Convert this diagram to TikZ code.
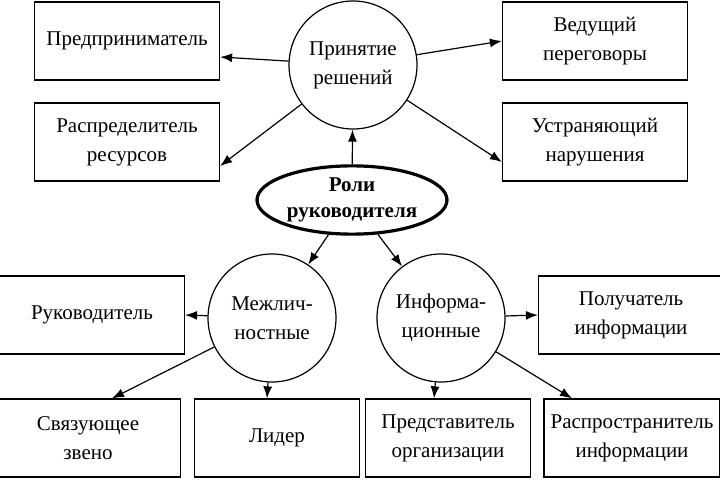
\documentclass[tikz,border=0pt]{standalone}
\usepackage{fontspec}
\setmainfont{Liberation Serif}
\usetikzlibrary{shapes.geometric,arrows.meta}

\tikzset{
  role/.style={draw,line width=0.6pt,minimum width=92.5pt,minimum height=39pt,align=center},
  group/.style={draw,circle,line width=0.6pt,minimum size=64pt,align=center},
  arr/.style={-{Latex[length=6pt,width=4.5pt]},line width=0.6pt}
}

\begin{document}
\begin{tikzpicture}[x=0.5pt,y=-0.5pt,font=\fontsize{10.5}{14.5}\selectfont]
\useasboundingbox (0,0) rectangle (720,481);

% decisions
\node[group] (dec) at (353,65) {Принятие\\решений};
\node[role] (pred) at (127,41) {Предприниматель};
\node[role] (raspr) at (127,142) {Распределитель\\ресурсов};
\node[role] (ved) at (595,41) {Ведущий\\переговоры};
\node[role] (ustr) at (595,142) {Устраняющий\\нарушения};

% centre
\node[draw,ellipse,line width=1.6pt,minimum width=95pt,minimum height=30pt,inner sep=1pt,align=center,font=\fontsize{10.5}{13}\selectfont\bfseries] (roles) at (352,200) {Роли\\руководителя};

% groups
\node[group] (mezh) at (272,318) {Межлич-\\ностные};
\node[group] (info) at (441,318) {Информа-\\ционные};

\node[role] (ruk) at (92,315) {Руководитель};
\node[role] (polu) at (631,315) {Получатель\\информации};
\node[role] (svyaz) at (88,438) {Связующее\\звено};
\node[role,minimum width=82.5pt] (lid) at (277,438) {Лидер};
\node[role,minimum width=82.5pt] (pred2) at (448,438) {Представитель\\организации};
\node[role,minimum width=86pt] (rasp) at (632,438) {Распространитель\\информации};

\draw[arr] (dec) -- ([yshift=-8]pred.east);
\draw[arr] (dec) -- ([yshift=-12]raspr.east);
\draw[arr] (dec) -- (ved.west);
\draw[arr] (dec) -- ([yshift=-10]ustr.west);
\draw[arr] (roles) -- (dec);
\draw[arr] (roles) -- (mezh);
\draw[arr] (roles) -- (info);
\draw[arr] (mezh) -- (ruk.east);
\draw[arr] (mezh) -- ([xshift=12]svyaz.north);
\draw[arr] (mezh) -- ([xshift=-5]lid.north);
\draw[arr] (info) -- (polu.west);
\draw[arr] (info) -- ([xshift=-7]pred2.north);
\draw[arr] (info) -- ([xshift=-30]rasp.north);

\end{tikzpicture}
\end{document}
